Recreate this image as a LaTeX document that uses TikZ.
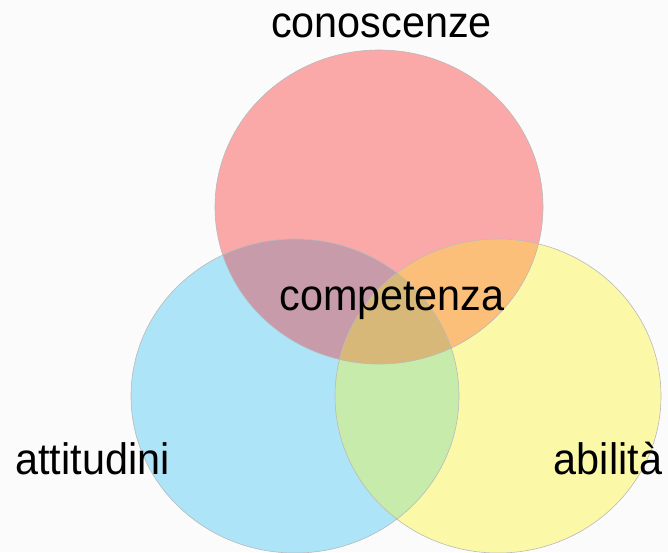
\documentclass[tikz,border=0pt]{standalone}
\usepackage{fontspec}
\setmainfont{Liberation Sans}
\definecolor{cR}{HTML}{FBA8A8}
\definecolor{cB}{HTML}{AEE4F8}
\definecolor{cY}{HTML}{FBF9A8}
\definecolor{cRB}{HTML}{C79BAA}
\definecolor{cRY}{HTML}{FBBF7A}
\definecolor{cBY}{HTML}{C7EBAA}
\definecolor{cRBY}{HTML}{D8B878}
\definecolor{bgc}{HTML}{FBFBFB}
\begin{document}
\begin{tikzpicture}[x=1pt,y=-1pt,
  lbl/.style={anchor=base,inner sep=0pt,font=\fontsize{44}{48}\selectfont,xscale=0.94,transform shape},
  rim/.style={draw=gray!55,line width=0.6pt}]
\useasboundingbox (0,0) rectangle (668,552);
\fill[bgc] (0,0) rectangle (668,552);
\def\redc{(379,207) ellipse [x radius=164pt, y radius=157pt]}
\def\bluc{(295,396) ellipse [x radius=164pt, y radius=157pt]}
\def\yelc{(498,396) ellipse [x radius=163pt, y radius=157pt]}
\fill[cR] \redc;
\fill[cB] \bluc;
\fill[cY] \yelc;
\begin{scope}\clip \redc; \fill[cRB] \bluc; \fill[cRY] \yelc; \end{scope}
\begin{scope}\clip \bluc; \fill[cBY] \yelc; \end{scope}
\begin{scope}\clip \redc; \clip \bluc; \fill[cRBY] \yelc; \end{scope}
\draw[rim] \redc;
\draw[rim] \bluc;
\draw[rim] \yelc;
\node[lbl] (kn) at (381.5,37.5) {conoscenze};
\node[lbl] (co) at (392,310) {competenza};
\node[lbl] (at) at (92.5,474) {attitudini};
\node[lbl] (ab) at (608,474) {abilità};
\end{tikzpicture}
\end{document}
